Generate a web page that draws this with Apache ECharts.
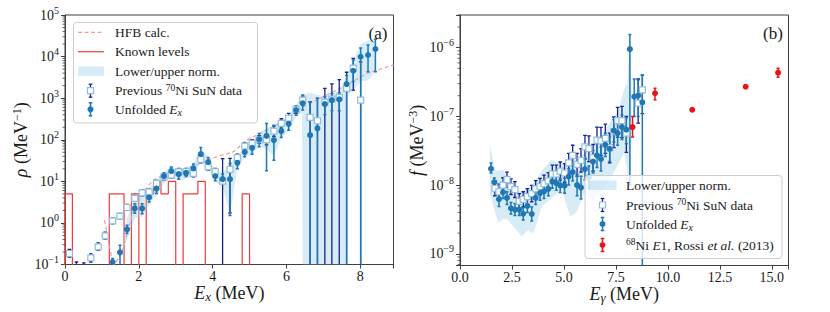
<!DOCTYPE html>
<html><head><meta charset="utf-8">
<script src="https://cdn.jsdelivr.net/npm/echarts@6/dist/echarts.min.js"></script>
<style>html,body{margin:0;padding:0;background:#fff}#c{width:830px;height:312px}</style>
</head><body><div id="c"></div>
<script>
// ---------------- Panel (a): level density ----------------
const aUnfX  = [1.29,1.49,1.68,1.89,2.09,2.28,2.48,2.68,2.88,3.08,3.28,3.48,3.68,3.88,4.07,4.27,4.47,4.67,4.87,5.07,5.26,5.46,5.66,5.86,6.06,6.26,6.44,6.64,6.84,7.04,7.23,7.43,7.63,7.81,8.01,8.21,8.41];
const aUnfY  = [0.115,0.195,0.70,2.23,2.23,4.1,6.7,13.3,17.6,14.9,16.0,20.4,45,29,13.3,11.3,11.3,27.9,50.5,64,102,124,98,161,242,517,750,129,188,721,900,935,2180,4560,9900,10900,15200];
const aUnfLo = [0.095,null,0.56,1.7,1.65,3.2,5.1,10.7,14,11.3,13,15.5,32,22,10.3,9,1.5,20,39,45,68,18,32,114,170,390,517,null,null,400,500,500,null,2500,null,4300,4300];
const aUnfHi = [0.14,0.29,0.88,2.9,2.9,5.1,8.9,16,22,19.7,19.7,26,65,37.6,17,15,27,39,68,85,142,245,224,270,355,645,1190,810,990,1100,1300,1350,3500,8300,16000,19000,26000];

const aPrevX  = [0.12,0.31,0.51,0.70,0.90,1.09,1.29,1.49,1.68,1.89,2.09,2.28,2.48,2.68,2.88,3.08,3.28,3.48,3.68,3.88,4.07,4.27,4.47,4.67,4.87,5.07,5.26,5.46,5.66,5.86,6.06,6.26,6.44,6.64,6.84,7.04,7.23,7.43,7.63,7.81,8.01];
const aPrevY  = [0.184,0.08,0.08,0.145,0.265,0.49,1.12,1.45,2.35,3.9,5.3,5.6,8.9,12.8,14.1,16.9,17,15.5,33.7,22.3,17,10.1,19.3,37,70,82,100,100,161,248,330,540,900,345,286,800,950,1050,1720,5300,900];
const aPrevLo = [0.15,null,null,0.115,0.22,0.41,0.95,1.25,2.0,3.3,4.5,4.7,7.5,10.8,11.8,14,14,12.8,28,18.5,14,null,1.75,30,58,66,82,75,120,190,250,430,700,null,null,null,null,null,null,1560,null];
const aPrevHi = [0.23,0.115,0.11,0.18,0.33,0.6,1.32,1.7,2.8,4.6,6.2,6.7,10.6,15.2,16.8,20.4,20.5,18.8,40.5,27,20.5,35,35.6,45,84,100,125,130,215,320,430,640,1120,810,990,1720,2200,2800,4200,9100,7500];

const aBandX  = [1.58,1.68,1.89,2.09,2.28,2.48,2.68,2.88,3.08,3.28,3.48,3.68,3.88,4.07,4.27,4.47,4.67,4.87,5.07,5.26,5.46,5.66,5.86,6.06,6.26,6.42,6.44,6.64,6.84,7.04,7.23,7.43,7.63,7.65,7.81,8.01,8.21,8.41];
const aBandLo = [0.27,0.4,1.3,1.4,2.8,4.5,9,12,10.5,11.5,13,30,20,9.5,7.5,1.6,20,38,45,70,60,40,110,170,350,450,null,null,null,null,null,null,null,1200,1500,2500,2700,4300];
const aBandHi = [0.4,1.3,4,5,7,10.5,17,22,20,21,27,65,38,18,16,27,40,70,85,145,190,220,270,360,700,1150,1200,1350,1200,1100,1300,1500,3500,3600,8000,20000,24000,27000];

const aHfbX = [1.07,1.31,1.55,1.7,1.85,2.12,2.39,2.75,3.2,3.66,4.1,4.56,4.92,5.28,5.64,6.0,6.37,6.82,7.27,7.72,8.18,8.9];
const aHfbY = [1.16,0.09,0.2,0.6,2.0,5.5,10.7,15.5,18.6,27,39,51,98,141,204,324,563,900,1425,2270,3950,6300];

const aLevelEdges  = [0,0.2,0.4,0.6,0.8,1.0,1.2,1.4,1.6,1.8,2.0,2.2,2.4,2.6,2.8,3.0,3.2,3.4,3.6,3.8,4.0,4.2,4.4,4.6,4.8,5.0,5.2];
const aLevelCounts = [1,0,0,0,0,0,1,1,0,1,0,1,2,1,2,0,1,1,2,0,0,0,0,0,1,0];
const aYTicks = ['10^5','10^4','10^3','10^2','10^1','10^0','10^-1'];

// ---------------- Panel (b): gamma strength function ----------------
const bUnfX  = [1.49,1.65,1.875,2.07,2.26,2.45,2.64,2.85,3.04,3.24,3.45,3.64,3.85,4.04,4.25,4.44,4.63,4.82,5.03,5.23,5.42,5.63,5.82,6.01,6.2,6.4,6.59,6.78,6.99,7.2,7.4,7.58,7.79,8.0,8.17,8.38,8.57,8.77];
const bUnfY  = [1.73e-8,1.1e-8,6.25e-9,7.9e-9,6.5e-9,4.6e-9,4.4e-9,4.4e-9,3.83e-9,5.0e-9,3.8e-9,6.5e-9,7.65e-9,8.1e-9,8.8e-9,1.13e-8,1.07e-8,9.9e-9,9.8e-9,1.33e-8,1.55e-8,1.0e-8,9.2e-9,1.71e-8,1.3e-8,2.2e-8,2.7e-8,2.4e-8,3.86e-8,3.37e-8,6.2e-8,5.7e-8,7.0e-8,6.4e-8,9.5e-7,1.94e-7,2.0e-7,1.6e-7];
const bUnfLo = [1.5e-8,9.5e-9,4.9e-9,6.4e-9,5.2e-9,3.8e-9,3.6e-9,3.6e-9,3.1e-9,4.0e-9,3.0e-9,5.2e-9,6.0e-9,6.4e-9,7.0e-9,9.0e-9,8.4e-9,7.8e-9,7.6e-9,1.0e-8,1.15e-8,7.0e-9,6.3e-9,1.2e-8,9e-9,1.5e-8,1.8e-8,1.6e-8,2.6e-8,2.2e-8,4.2e-8,3.8e-8,4.6e-8,4.0e-8,1.0e-8,1.0e-7,1.0e-7,null];
const bUnfHi = [2.1e-8,1.27e-8,8.1e-9,9.8e-9,8.0e-9,5.6e-9,5.4e-9,5.4e-9,4.7e-9,6.2e-9,4.8e-9,8.1e-9,9.7e-9,1.02e-8,1.1e-8,1.42e-8,1.35e-8,1.26e-8,1.26e-8,1.75e-8,2.1e-8,1.45e-8,1.35e-8,2.45e-8,1.9e-8,3.2e-8,4.0e-8,3.6e-8,5.7e-8,5.1e-8,9.0e-8,8.5e-8,1.05e-7,9.5e-8,1.55e-6,3.5e-7,3.4e-7,4.0e-7];

const bPrevX  = [1.68,1.875,2.07,2.26,2.45,2.64,2.85,3.04,3.24,3.45,3.64,3.85,4.04,4.25,4.44,4.63,4.82,5.03,5.23,5.42,5.63,5.82,6.01,6.2,6.4,6.59,6.78,6.99,7.2,7.4,7.58,7.79,8.0,8.57,8.77];
const bPrevY  = [9.0e-9,8.0e-9,1.0e-8,1.2e-8,9.5e-9,8.6e-9,5.8e-9,6.2e-9,6.8e-9,7.5e-9,8.8e-9,9.5e-9,1.05e-8,1.15e-8,1.45e-8,1.45e-8,1.6e-8,1.5e-8,2.1e-8,2.7e-8,2.0e-8,2.3e-8,3.6e-8,3.4e-8,2.5e-8,4.5e-8,4.4e-8,4.8e-8,3.5e-8,6.0e-8,8.7e-8,8.7e-8,5.7e-8,1.56e-7,2.43e-7];
const bPrevLo = [7.0e-9,6.2e-9,7.8e-9,9.3e-9,7.3e-9,6.6e-9,4.5e-9,4.8e-9,5.2e-9,5.7e-9,6.7e-9,7.2e-9,7.9e-9,8.7e-9,1.08e-8,1.08e-8,1.18e-8,1.1e-8,1.5e-8,1.9e-8,1.35e-8,1.55e-8,2.4e-8,2.2e-8,1.6e-8,2.8e-8,2.7e-8,2.9e-8,2.1e-8,3.5e-8,5.0e-8,4.9e-8,3.0e-8,8.0e-8,1.1e-7];
const bPrevHi = [1.15e-8,1.03e-8,1.28e-8,1.55e-8,1.23e-8,1.12e-8,7.5e-9,8.0e-9,8.9e-9,9.9e-9,1.16e-8,1.25e-8,1.4e-8,1.52e-8,1.95e-8,1.95e-8,2.17e-8,2.05e-8,2.9e-8,3.8e-8,2.9e-8,3.4e-8,5.3e-8,5.2e-8,3.9e-8,7.0e-8,6.9e-8,7.7e-8,5.7e-8,9.8e-8,1.35e-7,1.4e-7,1.0e-7,3.5e-7,4.0e-7];

const bBandX  = [1.44,1.68,1.84,2.08,2.32,2.56,2.97,3.25,3.53,3.93,4.4,4.9,5.05,5.3,5.6,6.0,6.4,6.8,7.2,7.6,7.9,8.05,8.17,8.25];
const bBandLo = [7.6e-9,4.0e-9,2.8e-9,3.2e-9,3.1e-9,2.5e-9,1.8e-9,2.2e-9,2.0e-9,4.9e-9,6.5e-9,8.5e-9,6.0e-9,3.5e-9,4.0e-9,8.0e-9,6.0e-9,8.0e-9,1.2e-8,2.0e-8,3.0e-8,1.5e-8,9.0e-9,5.0e-8];
const bBandHi = [3.9e-8,1.67e-8,1.6e-8,1.67e-8,1.2e-8,8.5e-9,8.0e-9,9.0e-9,1.05e-8,1.6e-8,2.33e-8,2.0e-8,2.2e-8,2.5e-8,2.3e-8,3.0e-8,4.0e-8,5.0e-8,8.0e-8,1.2e-7,2.5e-7,3.0e-7,1.5e-6,3.0e-7];

const bRossiX  = [8.3,9.38,11.17,13.74,15.3];
const bRossiY  = [7.0e-8,2.17e-7,1.25e-7,2.7e-7,4.33e-7];
const bRossiLo = [5.0e-8,1.74e-7,1.2e-7,2.6e-7,3.7e-7];
const bRossiHi = [1.0e-7,2.57e-7,1.3e-7,2.85e-7,5.0e-7];
const bYTicks = ['10^-6','10^-7','10^-8','10^-9'];

// ---------------- styling ----------------
const FONT = 'Liberation Serif';
const TXT = '#1a1a1a';
const FRAME = '#404040';
const C_UNF = '#1f77b4', C_PREV = '#15238c', C_SQ = '#8fbde0', C_BAND = 'rgba(150,205,232,0.38)';
const C_LEV = '#ef3b3b', C_HFB = '#f49a9a', C_RED = '#e8141c';

function powLabel(v) {
  const e = Math.log10(v), r = Math.round(e);
  if (Math.abs(e - r) > 1e-6) return '';
  return '{b|10}{s|' + (r < 0 ? '\u2212' + (-r) : r) + '}';
}
const powRich = {
  b: {fontSize: 14, lineHeight: 20, fontFamily: FONT, color: TXT},
  s: {fontSize: 10, lineHeight: 10, verticalAlign: 'top', fontFamily: FONT, color: TXT}
};
const nameRich = {
  n: {fontSize: 18, lineHeight: 20, fontFamily: FONT, color: TXT},
  i: {fontSize: 18, lineHeight: 20, fontFamily: FONT, fontStyle: 'italic', color: TXT},
  s: {fontSize: 12, lineHeight: 10, verticalAlign: 'top', fontFamily: FONT, color: TXT},
  d: {fontSize: 13, lineHeight: 11, verticalAlign: 'bottom', fontFamily: FONT, fontStyle: 'italic', color: TXT}
};

function errSeries(xs, ys, lo, hi, color, lw, cap, axis) {
  return {
    type: 'custom', xAxisIndex: axis, yAxisIndex: axis, clip: true, silent: true, z: 3,
    data: xs.map((x, i) => [x, ys[i]]),
    renderItem(params, api) {
      const i = params.dataIndex, cs = params.coordSys;
      const bottom = cs.y + cs.height + 5;
      const x = api.coord([xs[i], ys[i]])[0];
      const yHi = api.coord([xs[i], hi[i]])[1];
      const yLo = lo[i] == null ? bottom : api.coord([xs[i], lo[i]])[1];
      const st = {stroke: color, lineWidth: lw};
      const ch = [{type: 'line', shape: {x1: x, y1: yLo, x2: x, y2: yHi}, style: st}];
      if (cap) {
        ch.push({type: 'line', shape: {x1: x - cap, y1: yHi, x2: x + cap, y2: yHi}, style: st});
        if (lo[i] != null) ch.push({type: 'line', shape: {x1: x - cap, y1: yLo, x2: x + cap, y2: yLo}, style: st});
      }
      return {type: 'group', children: ch};
    }
  };
}
function bandSeries(xs, lo, hi, axis) {
  return {
    type: 'custom', xAxisIndex: axis, yAxisIndex: axis, clip: true, silent: true, z: 2,
    data: [[xs[0], hi[0]]],
    renderItem(params, api) {
      const cs = params.coordSys, bottom = cs.y + cs.height + 5;
      const pts = [];
      for (let i = 0; i < xs.length; i++) pts.push(api.coord([xs[i], hi[i]]));
      for (let i = xs.length - 1; i >= 0; i--) {
        const p = api.coord([xs[i], lo[i] == null ? hi[i] : lo[i]]);
        if (lo[i] == null) p[1] = bottom;
        pts.push(p);
      }
      return {type: 'polygon', shape: {points: pts}, style: {fill: C_BAND}};
    }
  };
}
function minorTicks(lo, hi, xMin, axis) {
  const vals = [];
  for (let e = lo; e < hi; e++) for (let m = 2; m <= 9; m++) vals.push(m * Math.pow(10, e));
  return {
    type: 'custom', xAxisIndex: axis, yAxisIndex: axis, clip: false, silent: true, z: 5,
    data: vals.map(v => [xMin, v]),
    renderItem(params, api) {
      const cs = params.coordSys;
      const y = api.coord([xMin, vals[params.dataIndex]])[1];
      if (y < cs.y - 0.5 || y > cs.y + cs.height + 0.5) return null;
      return {type: 'line', shape: {x1: cs.x - 2.5, y1: y, x2: cs.x, y2: y}, style: {stroke: FRAME, lineWidth: 0.8}};
    }
  };
}

// Known levels histogram (density per MeV); empty bins sit far below the axis
const levelData = [[aLevelEdges[0], 1e-4]];
aLevelCounts.forEach((c, i) => {
  const w = aLevelEdges[i + 1] - aLevelEdges[i];
  levelData.push([aLevelEdges[i + 1], c > 0 ? c / w : 1e-4]);
});

const axisCommon = {
  axisLine: {show: true, onZero: false, lineStyle: {color: FRAME, width: 1}},
  axisTick: {show: true, length: 4, lineStyle: {color: FRAME, width: 1}},
  splitLine: {show: false},
  nameMoveOverlap: false
};

const option = {
  animation: false,
  backgroundColor: '#fff',
  grid: [
    {left: 65, top: 15, width: 328.5, height: 249.5, show: true, borderColor: FRAME, borderWidth: 1, outerBoundsMode: 'none', containLabel: false},
    {left: 460, top: 15, width: 328.5, height: 250.5, show: true, borderColor: FRAME, borderWidth: 1, outerBoundsMode: 'none', containLabel: false}
  ],
  xAxis: [
    Object.assign({}, axisCommon, {
      type: 'value', gridIndex: 0, min: 0, max: 8.9, interval: 2,
      axisLabel: {fontFamily: FONT, fontSize: 14, color: TXT, margin: 5,
        formatter: v => (Math.abs(v / 2 - Math.round(v / 2)) < 1e-6 ? String(v) : '')},
      name: '{i|E}{d|x}{n| (MeV)}', nameLocation: 'middle', nameGap: 18,
      nameTextStyle: {rich: nameRich, verticalAlign: 'top'}
    }),
    Object.assign({}, axisCommon, {
      type: 'value', gridIndex: 1, min: 0, max: 15.8, interval: 2.5,
      axisLabel: {fontFamily: FONT, fontSize: 14, color: TXT, margin: 5,
        formatter: v => (Math.abs(v / 2.5 - Math.round(v / 2.5)) < 1e-6 ? v.toFixed(1) : '')},
      name: '{i|E}{d|γ}{n| (MeV)}', nameLocation: 'middle', nameGap: 18,
      nameTextStyle: {rich: nameRich, verticalAlign: 'top'}
    })
  ],
  yAxis: [
    Object.assign({}, axisCommon, {
      type: 'log', logBase: 10, gridIndex: 0, min: 0.1, max: 1e5,
      axisLabel: {formatter: powLabel, rich: powRich, margin: 6},
      name: '{i|ρ}{n| (MeV}{s|\u22121}{n|)}', nameLocation: 'middle', nameGap: 34, nameRotate: 90,
      nameTextStyle: {rich: nameRich}
    }),
    Object.assign({}, axisCommon, {
      type: 'log', logBase: 10, gridIndex: 1, min: 6.76e-10, max: 2.99e-6,
      axisLabel: {formatter: powLabel, rich: powRich, margin: 6},
      name: '{i|f}{n| (MeV}{s|\u22123}{n|)}', nameLocation: 'middle', nameGap: 33, nameRotate: 90,
      nameTextStyle: {rich: nameRich}
    })
  ],
  series: [
    // panel (a)
    {type: 'line', name: 'Known levels', xAxisIndex: 0, yAxisIndex: 0, data: levelData, step: 'start',
      symbol: 'none', clip: true, lineStyle: {color: C_LEV, width: 1.2}, z: 1, silent: true},
    {type: 'line', name: 'HFB calc.', xAxisIndex: 0, yAxisIndex: 0, data: aHfbX.map((x, i) => [x, aHfbY[i]]),
      symbol: 'none', clip: true, lineStyle: {color: C_HFB, width: 1.2, type: [4, 2.5]}, z: 1, silent: true},
    bandSeries(aBandX, aBandLo, aBandHi, 0),
    errSeries(aPrevX, aPrevY, aPrevLo, aPrevHi, C_PREV, 1.3, 1.8, 0),
    {type: 'scatter', name: 'Previous 70Ni SuN data', xAxisIndex: 0, yAxisIndex: 0, symbol: 'rect', symbolSize: 6,
      data: aPrevX.map((x, i) => [x, aPrevY[i]]), clip: true, z: 4,
      itemStyle: {color: '#fff', borderColor: C_SQ, borderWidth: 1.2, opacity: 1}},
    errSeries(aUnfX, aUnfY, aUnfLo, aUnfHi, C_UNF, 1.5, 1.5, 0),
    {type: 'scatter', name: 'Unfolded Ex', xAxisIndex: 0, yAxisIndex: 0, symbol: 'circle', symbolSize: 6,
      data: aUnfX.map((x, i) => [x, aUnfY[i]]), clip: true, z: 6, itemStyle: {color: C_UNF, opacity: 1}},
    minorTicks(-1, 5, 0, 0),
    // panel (b)
    bandSeries(bBandX, bBandLo, bBandHi, 1),
    errSeries(bPrevX, bPrevY, bPrevLo, bPrevHi, C_PREV, 1.3, 1.8, 1),
    {type: 'scatter', name: 'Previous 70Ni SuN data', xAxisIndex: 1, yAxisIndex: 1, symbol: 'rect', symbolSize: 6,
      data: bPrevX.map((x, i) => [x, bPrevY[i]]), clip: true, z: 4,
      itemStyle: {color: '#fff', borderColor: C_SQ, borderWidth: 1.2, opacity: 1}},
    errSeries(bUnfX, bUnfY, bUnfLo, bUnfHi, C_UNF, 1.5, 1.5, 1),
    {type: 'scatter', name: 'Unfolded Ex', xAxisIndex: 1, yAxisIndex: 1, symbol: 'circle', symbolSize: 6,
      data: bUnfX.map((x, i) => [x, bUnfY[i]]), clip: true, z: 6, itemStyle: {color: C_UNF, opacity: 1}},
    errSeries(bRossiX, bRossiY, bRossiLo, bRossiHi, C_RED, 1.5, 1.5, 1),
    {type: 'scatter', name: '68Ni E1, Rossi et al. (2013)', xAxisIndex: 1, yAxisIndex: 1, symbol: 'circle', symbolSize: 6,
      data: bRossiX.map((x, i) => [x, bRossiY[i]]), clip: true, z: 6, itemStyle: {color: C_RED, opacity: 1}},
    minorTicks(-10, -5, 0, 1)
  ]
};

// ---------------- legends (drawn as graphics) ----------------
const legRich = {
  n: {fontSize: 13.5, fontFamily: FONT, color: TXT, lineHeight: 16},
  i: {fontSize: 13.5, fontFamily: FONT, fontStyle: 'italic', color: TXT, lineHeight: 16},
  s: {fontSize: 9.5, fontFamily: FONT, color: TXT, lineHeight: 9, verticalAlign: 'top'},
  d: {fontSize: 10, fontFamily: FONT, fontStyle: 'italic', color: TXT, lineHeight: 10, verticalAlign: 'bottom'}
};
function legText(x, y, t) {
  return {type: 'text', x: x, y: y, z: 100, style: {text: t, rich: legRich, textVerticalAlign: 'middle', verticalAlign: 'middle', textAlign: 'left', align: 'left', fill: TXT}};
}
function errIcon(cx, cy, color, lw, half, marker) {
  const els = [
    {type: 'line', shape: {x1: cx, y1: cy - half, x2: cx, y2: cy + half}, style: {stroke: color, lineWidth: lw}, z: 100},
    {type: 'line', shape: {x1: cx - 1.8, y1: cy - half, x2: cx + 1.8, y2: cy - half}, style: {stroke: color, lineWidth: lw}, z: 100},
    {type: 'line', shape: {x1: cx - 1.8, y1: cy + half, x2: cx + 1.8, y2: cy + half}, style: {stroke: color, lineWidth: lw}, z: 100}
  ];
  if (marker === 'sq') els.push({type: 'rect', shape: {x: cx - 3, y: cy - 3, width: 6, height: 6}, style: {fill: '#fff', stroke: C_SQ, lineWidth: 1.2}, z: 101});
  else els.push({type: 'circle', shape: {cx: cx, cy: cy, r: 3}, style: {fill: color}, z: 101});
  return els;
}
const graphics = [];
// left legend
graphics.push({type: 'rect', shape: {x: 73.5, y: 22.5, width: 184, height: 100.5, r: 3}, style: {fill: 'rgba(255,255,255,0.8)', stroke: '#cccccc', lineWidth: 1}, z: 99});
graphics.push({type: 'line', shape: {x1: 78, y1: 32.3, x2: 104, y2: 32.3}, style: {stroke: C_HFB, lineWidth: 1.2, lineDash: [4, 2.5]}, z: 100});
graphics.push(legText(115, 32.3, '{n|HFB calc.}'));
graphics.push({type: 'line', shape: {x1: 78, y1: 51.7, x2: 104, y2: 51.7}, style: {stroke: C_LEV, lineWidth: 1.2}, z: 100});
graphics.push(legText(115, 51.7, '{n|Known levels}'));
graphics.push({type: 'rect', shape: {x: 78, y: 66.5, width: 26, height: 9.5}, style: {fill: C_BAND}, z: 100});
graphics.push(legText(115, 71, '{n|Lower/upper norm.}'));
graphics.push(...errIcon(90.5, 90.7, C_PREV, 1.3, 6.5, 'sq'));
graphics.push(legText(115, 90.7, '{n|Previous }{s|70}{n|Ni SuN data}'));
graphics.push(...errIcon(90.5, 109.3, C_UNF, 1.5, 6.5, 'dot'));
graphics.push(legText(115, 109.3, '{n|Unfolded }{i|E}{d|x}'));
// right legend
graphics.push({type: 'rect', shape: {x: 585, y: 175.5, width: 197, height: 83, r: 3}, style: {fill: 'rgba(255,255,255,0.8)', stroke: '#cccccc', lineWidth: 1}, z: 99});
graphics.push({type: 'rect', shape: {x: 588.5, y: 180.5, width: 28, height: 9.5}, style: {fill: C_BAND}, z: 100});
graphics.push(legText(626, 185, '{n|Lower/upper norm.}'));
graphics.push(...errIcon(602.5, 205, C_PREV, 1.3, 6.5, 'sq'));
graphics.push(legText(626, 205, '{n|Previous }{s|70}{n|Ni SuN data}'));
graphics.push(...errIcon(602.5, 224, C_UNF, 1.5, 6.5, 'dot'));
graphics.push(legText(626, 224, '{n|Unfolded }{i|E}{d|x}'));
graphics.push(...errIcon(602.5, 245, C_RED, 1.5, 6.5, 'dot'));
graphics.push(legText(626, 245, '{s|68}{n|Ni }{i|E}{n|1, Rossi }{i|et al.}{n| (2013)}'));
// panel tags
graphics.push({type: 'text', x: 378, y: 33, z: 100, style: {text: '(a)', fontSize: 17, fontFamily: FONT, fill: TXT, textAlign: 'center', align: 'center', textVerticalAlign: 'middle', verticalAlign: 'middle'}});
graphics.push({type: 'text', x: 773, y: 33, z: 100, style: {text: '(b)', fontSize: 17, fontFamily: FONT, fill: TXT, textAlign: 'center', align: 'center', textVerticalAlign: 'middle', verticalAlign: 'middle'}});
option.graphic = {elements: graphics};

const chart = echarts.init(document.getElementById('c'), null, {renderer: 'svg', width: 830, height: 312});
chart.setOption(option);
</script></body></html>
